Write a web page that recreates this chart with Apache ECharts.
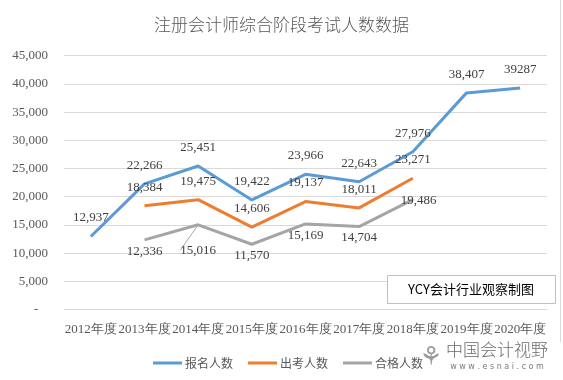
<!DOCTYPE html>
<html><head><meta charset="utf-8">
<script src="https://cdn.jsdelivr.net/npm/echarts@6/dist/echarts.min.js"></script>
<style>html,body{margin:0;padding:0;background:#fff}#c{width:563px;height:380px}</style>
</head><body><div id="c"></div>
<script>
var categories = ['2012年度','2013年度','2014年度','2015年度','2016年度','2017年度','2018年度','2019年度','2020年度'];
var applicants = [12937, 22266, 25451, 19422, 23966, 22643, 27976, 38407, 39287];
var examinees = [null, 18384, 19475, 14606, 19137, 18011, 23271, null, null];
var passed = [null, 12336, 15016, 11570, 15169, 14704, 19486, null, null];
var seriesNames = ['报名人数','出考人数','合格人数'];

function fmt(v){ return v.toString().replace(/\B(?=(\d{3})+(?!\d))/g, ','); }
var serif = 'Liberation Serif';
var labelBase = {show:true, fontFamily:serif, fontSize:13, color:'#404040'};

var chart = echarts.init(document.getElementById('c'));
chart.setOption({
  animation:false,
  title:{text:'注册会计师综合阶段考试人数数据', left:'center', top:11,
    textStyle:{fontFamily:'Noto Sans CJK SC', fontSize:17, fontWeight:300, color:'#595959'}},
  grid:{left:64, right:16, top:55.7, bottom:70.5},
  legend:{left:148, top:352, itemWidth:29, itemHeight:3, itemGap:15, icon:'rect',
    textStyle:{fontFamily:'Noto Sans CJK SC', fontSize:12, color:'#595959', padding:[0,0,0,-2]},
    data:seriesNames},
  xAxis:{type:'category', data:categories, boundaryGap:true,
    axisLine:{lineStyle:{color:'#d9d9d9'}}, axisTick:{show:false},
    axisLabel:{fontFamily:serif, fontSize:13, color:'#595959', margin:14, interval:0}},
  yAxis:{type:'value', min:0, max:45000, interval:5000,
    axisLine:{show:false}, axisTick:{show:false},
    splitLine:{lineStyle:{color:'#d9d9d9'}},
    axisLabel:{fontFamily:serif, fontSize:13, color:'#595959', margin:16,
      formatter:function(v){return v===0?'-   ':fmt(v);}}},
  series:[
    {name:seriesNames[0], type:'line', data:applicants.map(function(v,i){
        var d={value:v};
        if(i===applicants.length-1) d.label={formatter:String(v)};
        return d;}),
      symbol:'circle', symbolSize:0, showSymbol:true, lineStyle:{width:3, color:'#5B9BD5'}, itemStyle:{color:'#5B9BD5'},
      label:Object.assign({}, labelBase, {position:'top', distance:12, formatter:function(p){return fmt(p.value);}})},
    {name:seriesNames[1], type:'line', data:examinees, connectNulls:false,
      symbol:'circle', symbolSize:0, showSymbol:true, lineStyle:{width:3, color:'#ED7D31'}, itemStyle:{color:'#ED7D31'},
      label:Object.assign({}, labelBase, {position:'top', distance:12, formatter:function(p){return p.value==null?'':fmt(p.value);}})},
    {name:seriesNames[2], type:'line', data:passed.map(function(v,i){
        var d={value:v};
        if(i===6) d.label={position:'right', distance:5};
        if(i===2) d.labelLine={show:true, lineStyle:{color:'#a5a5a5', width:1}};
        return d;}),
      labelLayout:function(p){
        if(p.dataIndex===2) return {dy:14};
        if(p.dataIndex===6) return {dx:-17, dy:1};
        return {};
      },
      symbol:'circle', symbolSize:0, showSymbol:true, lineStyle:{width:3, color:'#A5A5A5'}, itemStyle:{color:'#A5A5A5'},
      label:Object.assign({}, labelBase, {position:'bottom', distance:5, formatter:function(p){return p.value==null?'':fmt(p.value);}})}
  ],
  graphic:[
    {type:'rect', shape:{x:387.5, y:275.5, width:168, height:28}, style:{fill:'#fff', stroke:'#bfbfbf', lineWidth:1}, z:10},
    {type:'text', x:471, y:289.5, z:11, style:{text:'YCY会计行业观察制图', fill:'#000', fontFamily:'Noto Sans CJK SC', fontSize:13, align:'center', verticalAlign:'middle'}},
    {type:'line', shape:{x1:560.5, y1:0, x2:560.5, y2:342}, style:{stroke:'#d9d9d9', lineWidth:1}},
    {type:'text', x:497, y:350, z:11, style:{text:'中国会计视野', fill:'#6b6b6b', fontFamily:'Noto Sans CJK SC', fontSize:17, fontWeight:300, align:'center', verticalAlign:'middle'}},
    {type:'text', x:497, y:367, z:11, style:{text:'w w w . e s n a i . c o m', fill:'#7a7a7a', fontFamily:'DejaVu Sans', fontSize:8, align:'center', verticalAlign:'middle'}},
    {type:'text', x:431, y:358, z:11, style:{text:'⚘', fill:'#9a9a9a', fontFamily:'DejaVu Sans', fontSize:26, align:'center', verticalAlign:'middle'}}
  ]
});
</script></body></html>
